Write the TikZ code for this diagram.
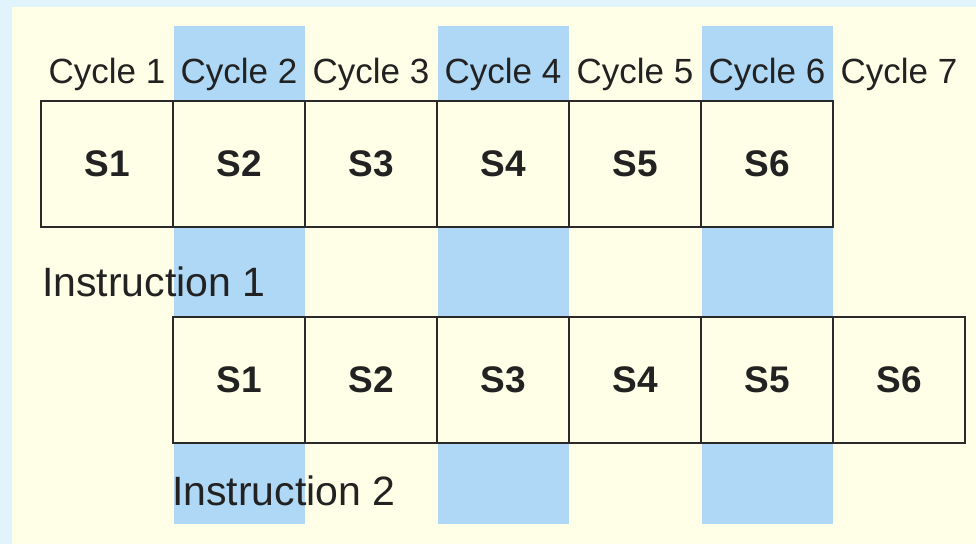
\documentclass[tikz,border=0pt]{standalone}
\usepackage{fontspec}
\setmainfont{Liberation Sans}
\definecolor{outerbg}{HTML}{E1F3FD}
\definecolor{cream}{HTML}{FFFFE8}
\definecolor{colblue}{HTML}{AED8F5}
\definecolor{linec}{HTML}{2A2A2A}
\definecolor{textc}{HTML}{222222}
\begin{document}
\begin{tikzpicture}[x=1pt,y=-1pt,
  stagebox/.style={draw=linec, line width=2.2pt, fill=cream, minimum width=132pt,
    minimum height=126pt, inner sep=0pt, text=textc,
    font=\fontsize{37}{40}\selectfont\bfseries},
  cyclelabel/.style={anchor=base, inner sep=0pt, text=textc,
    font=\fontsize{35}{38}\selectfont},
  instrlabel/.style={anchor=base west, inner sep=0pt, text=textc,
    font=\fontsize{41}{44}\selectfont}]
\useasboundingbox (0,0) rectangle (976,544);
\fill[outerbg] (0,0) rectangle (976,544);
\fill[cream] (12,7) rectangle (976,544);
\foreach \xa/\xb in {174/305, 438/569, 702/833}
  \fill[colblue] (\xa,26) rectangle (\xb,524);
% cycle labels
\foreach \k in {1,...,7}
  \node[cyclelabel] (c\k) at ({107+132*(\k-1)},83) {Cycle \k};
% instruction 1 stages
\foreach \k in {1,...,6}
  \node[stagebox] (a\k) at ({107+132*(\k-1)},164) {S\k};
% instruction 2 stages
\foreach \k in {1,...,6}
  \node[stagebox] (b\k) at ({239+132*(\k-1)},380) {S\k};
\node[instrlabel] (i1) at (42,296) {Instruction 1};
\node[instrlabel] (i2) at (172,505) {Instruction 2};
\end{tikzpicture}
\end{document}
